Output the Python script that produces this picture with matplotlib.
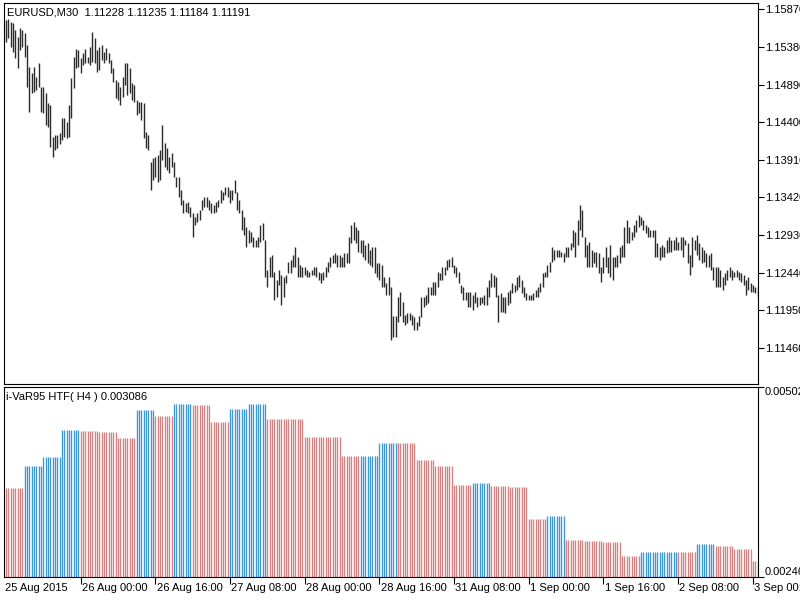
import numpy as np
import matplotlib
matplotlib.use('Agg')
import matplotlib.pyplot as plt
from matplotlib.transforms import blended_transform_factory

plt.rcParams['font.family'] = ['Liberation Sans', 'DejaVu Sans']
plt.rcParams['font.size'] = 8

# EURUSD M30 bars, high / low in 1e-4, first bar 25 Aug 08:00
high_pips = [
    11573, 11574, 11570, 11569, 11560, 11551, 11563, 11560, 11556, 11541,
    11512, 11504, 11512, 11499, 11517, 11486, 11486, 11478, 11465, 11463,
    11421, 11423, 11423, 11426, 11446, 11446, 11440, 11463, 11498, 11525,
    11535, 11534, 11524, 11530, 11535, 11525, 11538, 11557, 11550, 11534,
    11538, 11541, 11531, 11537, 11530, 11521, 11511, 11495, 11492, 11486,
    11499, 11517, 11517, 11511, 11491, 11489, 11469, 11466, 11466, 11465,
    11427, 11423, 11388, 11394, 11395, 11397,
    11404, 11436, 11413, 11407, 11395, 11400, 11388, 11369, 11368, 11352,
    11339, 11335, 11336, 11330, 11322, 11317, 11322, 11326, 11339, 11342,
    11342, 11339, 11335, 11332, 11336, 11339, 11352, 11349, 11356, 11355,
    11352, 11352, 11365, 11349, 11339, 11326, 11316, 11303, 11300, 11297,
    11290, 11287, 11291, 11306, 11309, 11287, 11248, 11264, 11267, 11245,
    11235, 11248, 11241, 11239, 11241, 11258, 11261, 11267, 11278, 11264,
    11254, 11252, 11251, 11248, 11245, 11248, 11252,
    11252, 11245, 11244, 11245, 11252, 11258, 11265, 11267, 11270, 11267,
    11267, 11265, 11270, 11270, 11290, 11306, 11310, 11304, 11300, 11287,
    11287, 11280, 11283, 11274, 11278, 11277, 11257, 11257, 11254, 11239,
    11231, 11238, 11226, 11187, 11187, 11212, 11219, 11206, 11189, 11192,
    11192, 11189, 11186, 11180, 11187, 11212, 11212, 11215, 11225, 11226,
    11232, 11232, 11245, 11244, 11251, 11251, 11261, 11262, 11264, 11254,
    11252, 11245, 11228, 11225, 11219, 11219,
    11219, 11215, 11219, 11213, 11213, 11213, 11215, 11225, 11235, 11244,
    11241, 11239, 11215, 11218, 11213, 11213, 11219, 11222, 11231, 11228,
    11239, 11241, 11235, 11225, 11218, 11215, 11215, 11218, 11222, 11225,
    11231, 11244, 11245, 11254, 11258, 11278, 11274, 11274, 11274, 11271,
    11270, 11278, 11278, 11283, 11300, 11297, 11313, 11332, 11326, 11291,
    11280, 11284, 11274, 11271, 11271, 11270, 11251, 11265, 11277, 11264,
    11280, 11265, 11265, 11267, 11278, 11280, 11304, 11313,
    11303, 11297, 11306, 11313, 11319, 11317, 11313, 11306, 11303, 11300,
    11300, 11300, 11283, 11277, 11280, 11278, 11287, 11291, 11287, 11287,
    11290, 11284, 11291, 11290, 11287, 11283, 11267, 11291, 11287, 11293,
    11283, 11277, 11274, 11270, 11267, 11270, 11251, 11251, 11251, 11248,
    11239, 11244, 11248, 11251, 11248, 11245, 11248, 11245, 11244, 11241,
    11235, 11238, 11231, 11228, 11226, 11225,
]
low_pips = [
    11544, 11550, 11538, 11531, 11524, 11511, 11534, 11538, 11525, 11486,
    11453, 11478, 11479, 11482, 11486, 11453, 11452, 11436, 11434, 11408,
    11395, 11404, 11407, 11411, 11417, 11421, 11420, 11421, 11446, 11485,
    11511, 11512, 11504, 11515, 11517, 11517, 11515, 11518, 11517, 11505,
    11508, 11521, 11517, 11521, 11517, 11504, 11492, 11472, 11469, 11463,
    11473, 11489, 11476, 11478, 11469, 11466, 11450, 11452, 11443, 11420,
    11407, 11404, 11352, 11365, 11368, 11362,
    11365, 11391, 11382, 11378, 11374, 11382, 11369, 11356, 11342, 11332,
    11322, 11323, 11322, 11317, 11291, 11306, 11310, 11313, 11326, 11329,
    11330, 11326, 11322, 11322, 11323, 11330, 11335, 11339, 11345, 11343,
    11335, 11339, 11348, 11326, 11322, 11300, 11293, 11277, 11283, 11284,
    11278, 11277, 11278, 11284, 11287, 11238, 11225, 11239, 11239, 11209,
    11213, 11228, 11202, 11213, 11231, 11244, 11244, 11252, 11252, 11239,
    11239, 11239, 11241, 11239, 11239, 11241, 11241,
    11239, 11235, 11231, 11235, 11239, 11245, 11252, 11257, 11257, 11251,
    11251, 11251, 11252, 11257, 11257, 11283, 11287, 11283, 11271, 11270,
    11265, 11261, 11257, 11254, 11252, 11244, 11239, 11235, 11226, 11225,
    11215, 11215, 11157, 11160, 11160, 11180, 11187, 11180, 11176, 11179,
    11183, 11176, 11170, 11170, 11174, 11186, 11199, 11202, 11205, 11215,
    11215, 11215, 11225, 11235, 11235, 11241, 11248, 11252, 11251, 11244,
    11238, 11231, 11218, 11209, 11209, 11200,
    11200, 11196, 11205, 11200, 11202, 11205, 11202, 11202, 11213, 11225,
    11225, 11212, 11180, 11193, 11193, 11192, 11202, 11205, 11218, 11219,
    11222, 11226, 11218, 11212, 11209, 11209, 11209, 11209, 11212, 11213,
    11219, 11225, 11238, 11239, 11245, 11258, 11261, 11264, 11265, 11264,
    11258, 11264, 11265, 11274, 11277, 11264, 11280, 11300, 11291, 11264,
    11252, 11252, 11252, 11257, 11252, 11244, 11232, 11244, 11251, 11244,
    11239, 11235, 11251, 11252, 11257, 11265, 11265, 11283,
    11283, 11287, 11291, 11297, 11304, 11306, 11300, 11296, 11291, 11291,
    11290, 11265, 11264, 11261, 11264, 11264, 11270, 11271, 11271, 11274,
    11274, 11274, 11274, 11265, 11280, 11257, 11241, 11252, 11274, 11267,
    11261, 11257, 11258, 11252, 11251, 11248, 11235, 11225, 11226, 11226,
    11222, 11228, 11235, 11239, 11235, 11239, 11239, 11235, 11232, 11228,
    11215, 11222, 11219, 11219, 11218, 11213,
]

# i-VaR95 on H4, one value per H4 block (8 M30 bars each)
var_h4 = [
    0.00366, 0.00396, 0.00408, 0.00444, 0.00443, 0.00441, 0.00433, 0.00471,
    0.00463, 0.00479, 0.00478, 0.00455, 0.00472, 0.00479, 0.00459, 0.00459,
    0.00435, 0.00435, 0.00409, 0.00409, 0.00427, 0.00427, 0.00404, 0.00396,
    0.00370, 0.00373, 0.00369, 0.00367, 0.00324, 0.00328, 0.00296, 0.00294,
    0.00293, 0.00274, 0.00280, 0.00280, 0.00280, 0.00290, 0.00288, 0.00284,
    0.00268,
]
var_dir = [
    'dn', 'up', 'up', 'up', 'dn', 'dn', 'dn', 'up', 'dn', 'up', 'dn', 'dn',
    'up', 'up', 'dn', 'dn', 'dn', 'dn', 'dn', 'up', 'up', 'dn', 'dn', 'dn',
    'dn', 'up', 'dn', 'dn', 'dn', 'up', 'dn', 'dn', 'dn', 'dn', 'up', 'up',
    'dn', 'up', 'dn', 'dn', 'dn',
]

time_labels = ['26 Aug 00:00', '26 Aug 16:00', '27 Aug 08:00', '28 Aug 00:00',
               '28 Aug 16:00', '31 Aug 08:00', '1 Sep 00:00', '1 Sep 16:00',
               '2 Sep 08:00', '3 Sep 00:00']
price_ticks = [1.15870, 1.15380, 1.14890, 1.14400, 1.13910,
               1.13420, 1.12930, 1.12440, 1.11950, 1.11460]

highs = np.array(high_pips) / 10000
lows = np.array(low_pips) / 10000
bars = np.arange(len(highs))

block = bars // 8
var_vals = np.array(var_h4)[block]
col_map = {'dn': '#d97f7f', 'up': '#3a96e2'}
var_cols = [col_map[var_dir[b]] for b in block]

fig = plt.figure(figsize=(8, 6), dpi=100)
ax1 = fig.add_axes([4 / 800, 1 - 384 / 600, 754 / 800, 381 / 600])
ax2 = fig.add_axes([4 / 800, 1 - 577 / 600, 754 / 800, 190 / 600])

# price bars
ax1.vlines(bars, lows, highs, color='#2a2a2a', lw=1.0)
ax1.set_xlim(-0.86, 322.2)
ax1.set_ylim(1.10991, 1.15952)
ax1.yaxis.tick_right()
ax1.set_yticks(price_ticks)
ax1.set_yticklabels(['%.5f' % p for p in price_ticks])
ax1.tick_params(axis='y', direction='out', length=4, width=0.8, pad=1, labelsize=8)
ax1.set_xticks([])

# VaR histogram
ax2.vlines(bars, 0.00246, var_vals, colors=var_cols, lw=0.95)
ax2.set_xlim(-0.86, 322.2)
ax2.set_ylim(0.00246, 0.00502)
ax2.yaxis.tick_right()
ax2.set_yticks([0.00246, 0.00502])
ax2.set_yticklabels(['0.00246', '0.00502'])
lbls = ax2.get_yticklabels()
lbls[0].set_va('bottom')
lbls[1].set_va('top')
ax2.tick_params(axis='y', direction='out', length=4, width=0.8, pad=1, labelsize=8)

tick_bars = [32 * (k + 1) for k in range(len(time_labels))]
ax2.set_xticks(tick_bars)
ax2.set_xticklabels([])
ax2.tick_params(axis='x', direction='out', length=5, width=0.8)
tr = blended_transform_factory(ax2.transData, fig.transFigure)
ax2.text(-0.6, 1 - 588 / 600, '25 Aug 2015', transform=tr, ha='left', va='center', fontsize=8)
for b, lab in zip(tick_bars, time_labels):
    ax2.text(b + 0.5, 1 - 588 / 600, lab, transform=tr, ha='left', va='center', fontsize=8)

for ax in (ax1, ax2):
    for s in ax.spines.values():
        s.set_linewidth(0.8)
        s.set_color('black')

fig.text(7 / 800, 1 - 12.5 / 600, 'EURUSD,M30  1.11228 1.11235 1.11184 1.11191',
         ha='left', va='center', fontsize=8)
fig.text(6.5 / 800, 1 - 397 / 600, 'i-VaR95 HTF( H4 ) 0.003086',
         ha='left', va='center', fontsize=8)

fig.savefig('out.png', dpi=100)
